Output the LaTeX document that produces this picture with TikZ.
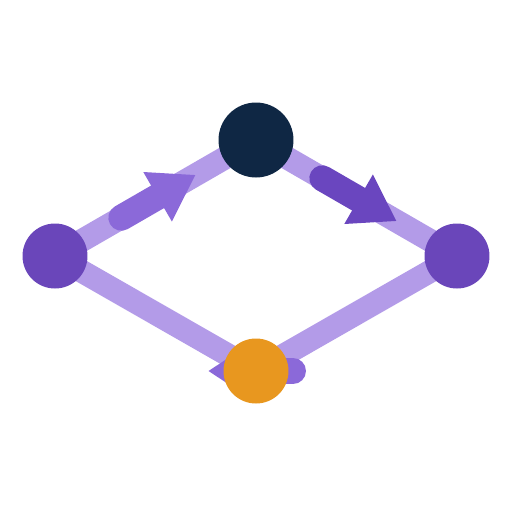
\documentclass[tikz,border=0pt]{standalone}
\usepackage{xcolor}
\usepackage{tikz}
\usetikzlibrary{arrows.meta}
\usetikzlibrary{calc}
\usetikzlibrary{backgrounds}
\definecolor{edgepurple}{HTML}{B39BE8}
\definecolor{flowlight}{HTML}{8B69D9}
\definecolor{flowdark}{HTML}{6A46BF}
\definecolor{nodepurple}{HTML}{6A46BA}
\definecolor{navy}{HTML}{0F2744}
\definecolor{amber}{HTML}{E8971F}
\tikzset{%
  link/.style = {draw=edgepurple,line width=0.46cm},
  flow/.style = {line width=0.52cm,line cap=round,
        -{Triangle[length=0.88cm,width=1.08cm]}},
  c/.style = {circle,inner sep=0pt,minimum size=1.3cm},
  big/.style = {circle,inner sep=0pt,minimum size=1.5cm}
}

\begin{document}
\begin{tikzpicture}[x=0.02cm,y=-0.02cm]
    \useasboundingbox (0,0) rectangle (512,512);
    \node[c,fill=nodepurple] (left) at (55,256) {};
    \node[big,fill=navy] (top) at (256,140) {};
    \node[c,fill=nodepurple] (right) at (457,256) {};
    \node[c,fill=amber] (bottom) at (256,371) {};

    \begin{scope}[on background layer]
        \draw[link] (left.center) -- (top.center);
        \draw[link] (top.center) -- (right.center);
        \draw[link] (right.center) -- (bottom.center);
        \draw[link] (bottom.center) -- (left.center);

        \draw[flow,flowlight] ($(left)!0.33!(top)$) -- ($(left)!0.70!(top)$);
        \draw[flow,flowdark] ($(top)!0.33!(right)$) -- ($(top)!0.70!(right)$);
        \draw[flow,flowlight] ($(bottom)+(37,0)$) -- ($(bottom)+(-48,0)$);
    \end{scope}
\end{tikzpicture}
\end{document}
